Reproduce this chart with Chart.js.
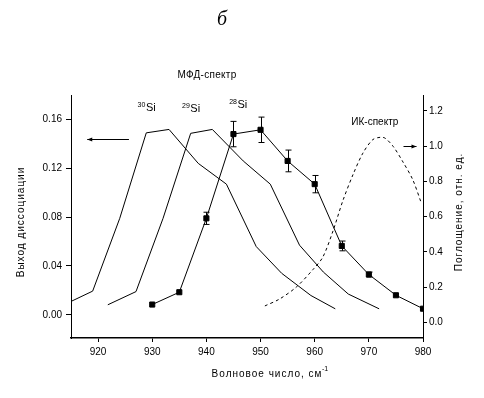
<!DOCTYPE html>
<html>
<head>
<meta charset="utf-8">
<script src="https://cdn.jsdelivr.net/npm/chart.js@4/dist/chart.umd.min.js"></script>
<style>
  html, body { margin: 0; padding: 0; background: #fff; }
  #wrap { width: 484px; height: 398px; }
</style>
</head>
<body>
<div id="wrap"><canvas id="grafica"></canvas></div>
<script>
// МФД-спектр, 28Si (с погрешностями)
const x28 = [930, 935, 940, 945, 950, 955, 960, 965, 970, 975, 980];
const y28 = [0.0084, 0.0185, 0.079, 0.148, 0.1515, 0.126, 0.107, 0.0564, 0.033, 0.016, 0.005];
const err28 = [0, 0, 0.005, 0.0104, 0.0104, 0.0089, 0.0071, 0.004, 0.002, 0, 0];

// 29Si
const x29 = [921.8, 927.0, 932.0, 937.1, 941.1, 946.8, 951.8, 957.2, 961.6, 966.2, 971.9];
const y29 = [0.0082, 0.019, 0.079, 0.1486, 0.1518, 0.126, 0.107, 0.057, 0.035, 0.017, 0.0049];

// 30Si
const x30 = [913.8, 919.0, 924.0, 928.9, 933.1, 938.5, 943.7, 949.2, 953.9, 959.3, 963.8];
const y30 = [0.0084, 0.0194, 0.079, 0.149, 0.1518, 0.124, 0.107, 0.0559, 0.034, 0.0158, 0.0049];

// ИК-спектр (правая ось)
const xIR = [950.8, 953.5, 956.6, 959.7, 961.5, 963.4, 965.2, 967.1, 968.9, 970.7, 972.1, 973.0, 974.5, 976.3, 978.1, 979.7];
const yIR = [0.093, 0.132, 0.20, 0.30, 0.37, 0.52, 0.69, 0.84, 0.96, 1.036, 1.05, 1.045, 0.998, 0.91, 0.81, 0.676];

// подписи осей
const xTicks = [920, 930, 940, 950, 960, 970, 980];
const yTicks = [0.00, 0.04, 0.08, 0.12, 0.16];
const y2Ticks = [0.0, 0.2, 0.4, 0.6, 0.8, 1.0, 1.2];

const pts = (xs, ys) => xs.map((v, i) => ({ x: v, y: ys[i] }));
const FONT = '"Liberation Sans", Arial, sans-serif';

const annotPlugin = {
    id: 'annot',
    beforeDraw(chart) {
        const ctx = chart.ctx;
        ctx.save();
        ctx.fillStyle = '#fff';
        ctx.fillRect(0, 0, chart.width, chart.height);
        ctx.restore();
    },
    afterDatasetsDraw(chart) {
        const { ctx, scales: { x, y, y2 } } = chart;
        ctx.save();
        ctx.strokeStyle = '#000';
        ctx.fillStyle = '#000';
        ctx.lineWidth = 1;

        // погрешности
        x28.forEach((v, i) => {
            if (!err28[i]) return;
            const px = Math.round(x.getPixelForValue(v)) + 0.5;
            const top = y.getPixelForValue(y28[i] + err28[i]);
            const bot = y.getPixelForValue(y28[i] - err28[i]);
            ctx.beginPath();
            ctx.moveTo(px, top); ctx.lineTo(px, bot);
            ctx.moveTo(px - 3, top); ctx.lineTo(px + 3, top);
            ctx.moveTo(px - 3, bot); ctx.lineTo(px + 3, bot);
            ctx.stroke();
        });

        // стрелки
        function arrow(x0, x1, py, dir) {
            ctx.beginPath();
            ctx.moveTo(x0, py); ctx.lineTo(x1, py);
            ctx.stroke();
            const tip = dir < 0 ? Math.min(x0, x1) : Math.max(x0, x1);
            ctx.beginPath();
            ctx.moveTo(tip, py);
            ctx.lineTo(tip - dir * 5, py - 2);
            ctx.lineTo(tip - dir * 5, py + 2);
            ctx.closePath();
            ctx.fill();
        }
        arrow(x.getPixelForValue(918), x.getPixelForValue(925.7), Math.round(y.getPixelForValue(0.1437)) + 0.5, -1);
        arrow(x.getPixelForValue(976.4), x.getPixelForValue(978.8), Math.round(y2.getPixelForValue(1.0)) + 0.5, 1);

        // изотопы
        function iso(mass, xv, yv) {
            const px = x.getPixelForValue(xv);
            const py = y.getPixelForValue(yv);
            ctx.textAlign = 'left';
            ctx.textBaseline = 'alphabetic';
            ctx.font = '7px ' + FONT;
            ctx.fillText(mass, px, py - 4);
            const w = ctx.measureText(mass).width;
            ctx.font = '11px ' + FONT;
            ctx.fillText('Si', px + w + 0.5, py);
        }
        iso('30', 927.3, 0.1668);
        iso('29', 935.5, 0.1660);
        iso('28', 944.2, 0.1693);

        ctx.font = '10px ' + FONT;
        ctx.textAlign = 'center';
        ctx.textBaseline = 'middle';
        ctx.fillText('ИК-спектр', x.getPixelForValue(971.1), y2.getPixelForValue(1.135));
        ctx.restore();
    },
    afterDraw(chart) {
        const ctx = chart.ctx;
        ctx.save();
        ctx.fillStyle = '#000';
        ctx.textAlign = 'center';
        ctx.textBaseline = 'middle';
        ctx.font = 'italic 20px "Liberation Serif", serif';
        ctx.fillText('б', 222, 20);
        ctx.font = '10px ' + FONT;
        ctx.letterSpacing = '0.3px';
        ctx.fillText('МФД-спектр', 207, 75);
        ctx.letterSpacing = '1px';
        ctx.fillText('Волновое число, см', 267, 374);
        ctx.letterSpacing = '0px';
        ctx.font = '7px ' + FONT;
        ctx.fillText('-1', 325, 369);
        ctx.font = '10px ' + FONT;
        ctx.letterSpacing = '1px';
        ctx.translate(21, 222);
        ctx.rotate(-Math.PI / 2);
        ctx.fillText('Выход диссоциации', 0, 0);
        ctx.setTransform(1, 0, 0, 1, 0, 0);
        ctx.translate(459, 212);
        ctx.rotate(-Math.PI / 2);
        ctx.fillText('Поглощение, отн. ед.', 0, 0);
        ctx.restore();
    }
};

const ctx = document.getElementById('grafica').getContext('2d');
const grafica = new Chart(ctx, {
    type: 'scatter',
    data: {
        datasets: [
            {
                label: '28Si',
                data: pts(x28, y28),
                showLine: true,
                borderColor: '#000',
                backgroundColor: '#000',
                borderWidth: 1,
                pointStyle: 'rect',
                pointRadius: 3.6,
                pointHoverRadius: 3.6,
                tension: 0,
                yAxisID: 'y'
            },
            {
                label: '29Si',
                data: pts(x29, y29),
                showLine: true,
                borderColor: '#000',
                borderWidth: 1,
                pointRadius: 0,
                tension: 0,
                yAxisID: 'y'
            },
            {
                label: '30Si',
                data: pts(x30, y30),
                showLine: true,
                borderColor: '#000',
                borderWidth: 1,
                pointRadius: 0,
                tension: 0,
                yAxisID: 'y'
            },
            {
                label: 'ИК-спектр',
                data: pts(xIR, yIR),
                showLine: true,
                borderColor: '#000',
                borderWidth: 1,
                borderDash: [3, 3],
                pointRadius: 0,
                tension: 0.3,
                yAxisID: 'y2'
            }
        ]
    },
    options: {
        responsive: true,
        maintainAspectRatio: false,
        animation: false,
        layout: { padding: { top: 95, left: 0, right: 0, bottom: 0 } },
        plugins: {
            legend: { display: false },
            tooltip: { enabled: false }
        },
        scales: {
            x: {
                type: 'linear',
                position: 'bottom',
                min: 915,
                max: 980,
                afterBuildTicks: s => { s.ticks = xTicks.map(v => ({ value: v })); },
                afterFit: s => { s.height = 60; },
                grid: { drawOnChartArea: false, drawTicks: true, tickLength: 4, color: '#000' },
                border: { color: '#000', width: 1.5 },
                ticks: { color: '#000', font: { family: FONT, size: 10 }, padding: 4 }
            },
            y: {
                type: 'linear',
                position: 'left',
                min: -0.019,
                max: 0.18,
                afterBuildTicks: s => { s.ticks = yTicks.map(v => ({ value: v })); },
                afterFit: s => { s.width = 71; },
                grid: { drawOnChartArea: false, drawTicks: true, tickLength: 5, color: '#000' },
                border: { color: '#000', width: 1 },
                ticks: { color: '#000', font: { family: FONT, size: 10 }, padding: 4, callback: v => v.toFixed(2) }
            },
            y2: {
                type: 'linear',
                position: 'right',
                min: -0.089,
                max: 1.29,
                afterBuildTicks: s => { s.ticks = y2Ticks.map(v => ({ value: v })); },
                afterFit: s => { s.width = 61; },
                grid: { drawOnChartArea: false, drawTicks: true, tickLength: 4, color: '#000' },
                border: { color: '#000', width: 1 },
                ticks: { color: '#000', font: { family: FONT, size: 10 }, padding: 2, callback: v => v.toFixed(1) }
            }
        }
    },
    plugins: [annotPlugin]
});
</script>
</body>
</html>
